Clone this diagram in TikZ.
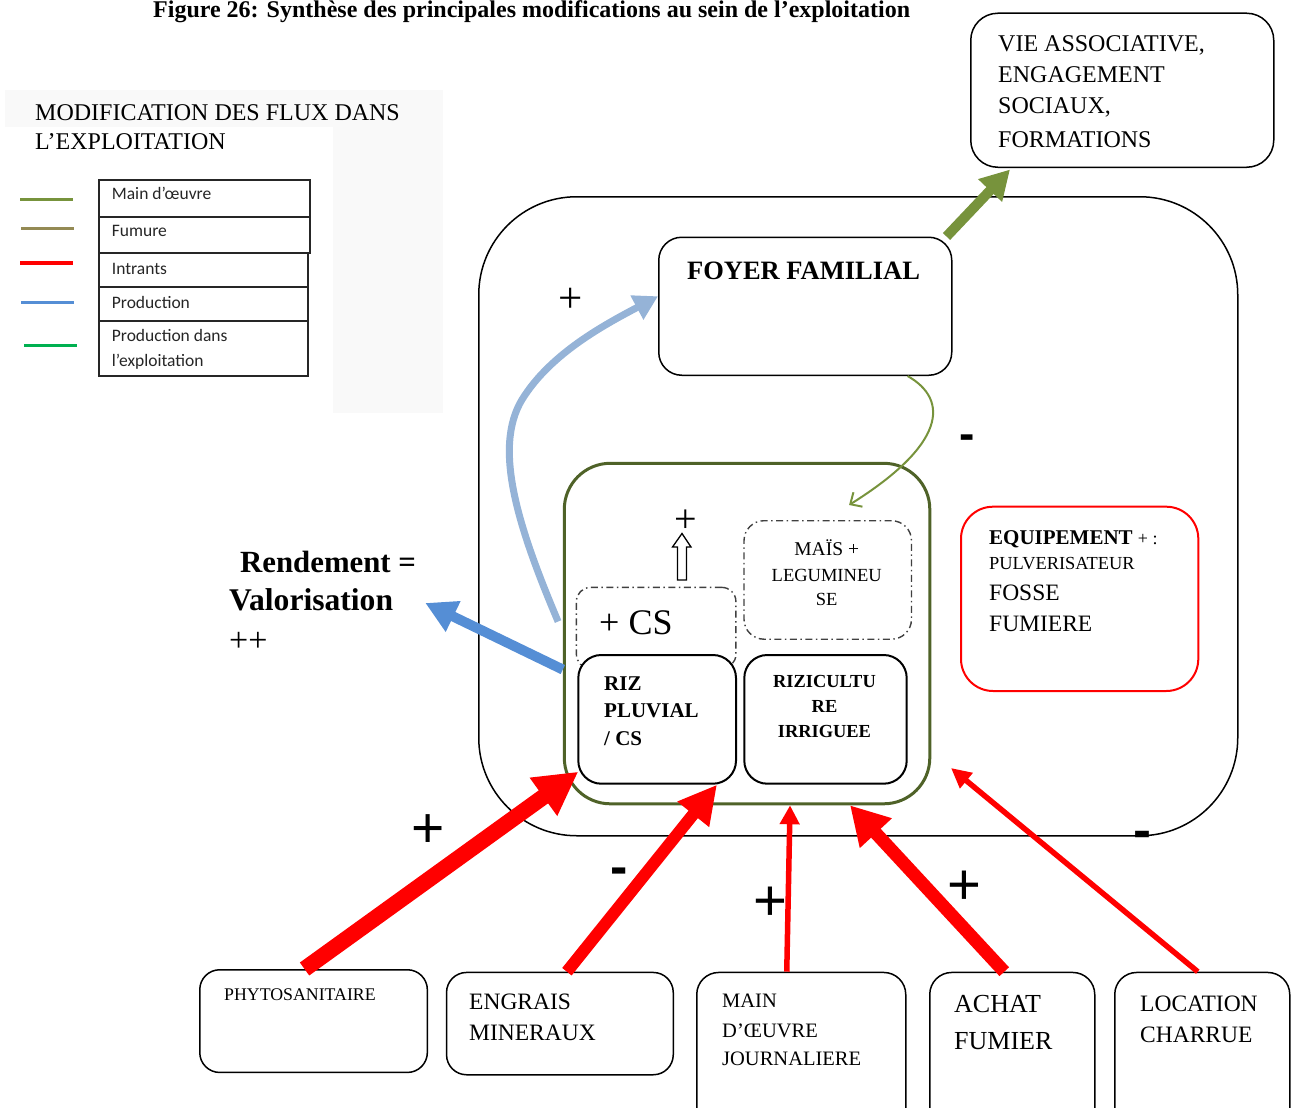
\documentclass[tikz,border=0pt]{standalone}
\usepackage{fontspec}
\setmainfont{Liberation Serif}
\newfontfamily\sansf{Liberation Sans}
\newfontfamily\calf{Carlito}
\usetikzlibrary{arrows.meta}
\newcommand\fsz[1]{\fontsize{#1}{#1}\selectfont}
\definecolor{myolive}{HTML}{77933C}
\definecolor{frameolive}{HTML}{4F6228}
\definecolor{mytan}{HTML}{948A54}
\definecolor{lblue}{HTML}{95B3D7}
\definecolor{mblue}{HTML}{558ED5}
\definecolor{leggreen}{HTML}{00B050}
\definecolor{ddgray}{HTML}{404040}
\definecolor{texture}{HTML}{F9F9F9}
\begin{document}
\begin{tikzpicture}[x=1pt,y=-1pt,
  box/.style={draw, line width=1.5pt, inner sep=0pt, anchor=north west},
  dd/.style={draw=ddgray, line width=1.4pt, dash pattern=on 7pt off 3.5pt on 1.5pt off 3.5pt, inner sep=0pt, anchor=north west},
  txt/.style={inner sep=0pt, anchor=base west},
  ctxt/.style={inner sep=0pt, anchor=base},
  sign/.style={inner sep=0pt, anchor=center},
  legrow/.style={draw=black!85, line width=2pt, inner sep=0pt, anchor=north west},
  legtxt/.style={inner sep=0pt, anchor=base west, font=\calf\fsz{17.5}, text=black!85}]
\useasboundingbox (0,0) rectangle (1291,1108);
% legend background texture
\fill[texture] (5,90) rectangle (443,127);
\fill[texture] (333,127) rectangle (443,413);
% title
\node[txt, font=\bfseries\fsz{24}] (title) at (153,18) {Figure 26: Synthèse des principales modifications au sein de l’exploitation};
% legend
\node[txt, font=\fsz{24}] (legt1) at (35,120) {MODIFICATION DES FLUX DANS};
\node[txt, font=\fsz{24}] (legt2) at (35,149) {L’EXPLOITATION};
\node[legrow, minimum width=211pt, minimum height=37pt] (r1) at (98,179) {};
\node[legrow, minimum width=211pt, minimum height=36pt] (r2) at (98,216) {};
\node[legrow, minimum width=209pt, minimum height=34pt] (r3) at (98,252) {};
\node[legrow, minimum width=209pt, minimum height=33.5pt] (r4) at (98,286) {};
\node[legrow, minimum width=209pt, minimum height=55.5pt] (r5) at (98,319.5) {};
\node[legtxt] (l1) at (111.7,199.3) {Main d’œuvre};
\node[legtxt] (l2) at (111.7,236.7) {Fumure};
\node[legtxt] (l3) at (111.7,274.3) {Intrants};
\node[legtxt] (l4) at (111.7,308.3) {Production};
\node[legtxt] (l5) at (111.7,341.7) {Production dans};
\node[legtxt] (l6) at (111.7,366) {l’exploitation};
\draw[myolive, line width=3pt] (20,199) -- (73,199);
\draw[mytan, line width=3pt] (21,228.3) -- (74,228.3);
\draw[red, line width=4pt] (20,262.7) -- (73,262.7);
\draw[mblue, line width=3pt] (21,302.3) -- (74,302.3);
\draw[leggreen, line width=3pt] (24,345.3) -- (77,345.3);
% main boxes
\node[box, minimum width=303pt, minimum height=154pt, rounded corners=27pt] (vie) at (970,12.5) {};
\node[box, minimum width=759pt, minimum height=639pt, rounded corners=98pt] (outer) at (478,196) {};
\node[box, minimum width=293pt, minimum height=138pt, rounded corners=23pt] (foyer) at (658,236.5) {};
\node[box, draw=frameolive, line width=3pt, minimum width=365.5pt, minimum height=340.5pt, rounded corners=46pt] (inner) at (562.8,461.8) {};
\node[dd, minimum width=159.5pt, minimum height=81pt, rounded corners=14pt] (cs) at (575.7,586.7) {};
\node[dd, minimum width=167.5pt, minimum height=118.5pt, rounded corners=20pt] (mais) at (743.3,520) {};
\node[box, fill=white, line width=2pt, minimum width=157.7pt, minimum height=128.7pt, rounded corners=23pt] (riz) at (577.3,654) {};
\node[box, line width=2pt, minimum width=162.4pt, minimum height=128.7pt, rounded corners=23pt] (rizi) at (743.3,654) {};
\node[box, draw=red, line width=2pt, minimum width=237.3pt, minimum height=184.3pt, rounded corners=32pt] (equip) at (960,505.7) {};
\node[box, minimum width=227.6pt, minimum height=102.7pt, rounded corners=20pt] (phyto) at (199,969) {};
\node[box, minimum width=226.7pt, minimum height=102.3pt, rounded corners=20pt] (engrais) at (445.8,971.7) {};
\node[box, minimum width=209pt, minimum height=160pt, rounded corners=22pt] (main) at (696,971.7) {};
\node[box, minimum width=165pt, minimum height=160pt, rounded corners=22pt] (achat) at (929,971.7) {};
\node[box, minimum width=175pt, minimum height=160pt, rounded corners=22pt] (loc) at (1114,971.7) {};
% texts
\node[txt, font=\fsz{24}] (v1) at (998,51.7) {VIE ASSOCIATIVE,};
\node[txt, font=\fsz{24}] (v2) at (998,82.8) {ENGAGEMENT};
\node[txt, font=\fsz{24}] (v3) at (998,113.8) {SOCIAUX,};
\node[txt, font=\fsz{24}] (v4) at (998,147.7) {FORMATIONS};
\node[ctxt, font=\bfseries\fsz{26.5}] (foyert) at (803.5,279) {FOYER FAMILIAL};
\node[txt, font=\fsz{36}] (cst) at (599,634) {+ CS};
\node[ctxt, font=\fsz{19.5}] (m1) at (826.7,555) {MAÏS +};
\node[ctxt, font=\fsz{18.5}] (m2) at (826.7,581.7) {LEGUMINEU};
\node[ctxt, font=\fsz{18.5}] (m3) at (826.7,605) {SE};
\node[txt, font=\bfseries\fsz{21}] (rz1) at (604,690) {RIZ};
\node[txt, font=\bfseries\fsz{21}] (rz2) at (604,717.7) {PLUVIAL};
\node[txt, font=\bfseries\fsz{21}] (rz3) at (604,745.7) {/ CS};
\node[ctxt, font=\bfseries\fsz{18.4}] (ri1) at (824.5,687.3) {RIZICULTU};
\node[ctxt, font=\bfseries\fsz{18.4}] (ri2) at (824.5,712.3) {RE};
\node[ctxt, font=\bfseries\fsz{18.4}] (ri3) at (824.5,737.3) {IRRIGUEE};
\node[txt] (eq1) at (989,544.3) {\fsz{21}\textbf{EQUIPEMENT} {\fsz{18}+ :}};
\node[txt, font=\fsz{18.4}] (eq2) at (989,569.3) {PULVERISATEUR};
\node[txt, font=\fsz{23.5}] (eq3) at (989,600) {FOSSE};
\node[txt, font=\fsz{23.5}] (eq4) at (989,631.7) {FUMIERE};
\node[txt, font=\bfseries\fsz{30.8}] (rend) at (240,572.7) {Rendement =};
\node[txt, font=\bfseries\fsz{31.6}] (valo) at (229,610) {Valorisation};
\node[txt, font=\fsz{34}] (pp) at (229,651) {++};
\node[txt, font=\fsz{17.8}] (ph) at (224,1000) {PHYTOSANITAIRE};
\node[txt, font=\fsz{23.5}] (en1) at (469,1009.3) {ENGRAIS};
\node[txt, font=\fsz{23.5}] (en2) at (469,1040.7) {MINERAUX};
\node[txt, font=\fsz{20.5}] (mo1) at (722,1007.3) {MAIN};
\node[txt, font=\fsz{20.5}] (mo2) at (722,1037.3) {D’ŒUVRE};
\node[txt, font=\fsz{20.5}] (mo3) at (722,1065) {JOURNALIERE};
\node[txt, font=\fsz{26}] (ac1) at (954,1012.7) {ACHAT};
\node[txt, font=\fsz{26}] (ac2) at (954,1049) {FUMIER};
\node[txt, font=\fsz{23.5}] (lo1) at (1140,1011) {LOCATION};
\node[txt, font=\fsz{23.5}] (lo2) at (1140,1042.3) {CHARRUE};
% signs
\node[sign, font=\fsz{43}] (s1) at (571,300) {+};
\node[sign, font=\fsz{40}] (s2) at (686,521) {+};
\node[sign, font=\sansf\fsz{57}] (s3) at (428.5,831) {+};
\node[sign, font=\sansf\bfseries\fsz{52}] (s4) at (618.7,876) {-};
\node[sign, font=\sansf\fsz{58}] (s5) at (770.3,904) {+};
\node[sign, font=\sansf\fsz{58}] (s6) at (964,888) {+};
\node[sign, font=\sansf\bfseries\fsz{54}] (s7) at (1142.5,840) {-};
\node[sign, font=\sansf\bfseries\fsz{46}] (s8) at (967,442) {-};
% hollow block arrow
\draw[line width=1.3pt, fill=white] (677.5,580) -- (677.5,547) -- (672.5,547) -- (682,533.5) -- (691,547) -- (686.5,547) -- (686.5,580) -- cycle;
% connectors
\draw[myolive, line width=10pt, -{Triangle[length=29pt,width=31pt]}] ([xshift=-6pt]foyer.north east) -- ([xshift=40pt,yshift=-1.5pt]vie.south west);
\draw[lblue, line width=7pt, -{Triangle[length=24pt,width=26pt]}] ([xshift=-4.7pt,yshift=12pt]inner.west) .. controls (515,520) and (492,442) .. (525,395) .. controls (555,350) and (610,322) .. ([yshift=10pt]foyer.west);
\draw[myolive, line width=2pt, -{Straight Barb[length=9pt,width=17pt]}] ([xshift=102.3pt]foyer.south) .. controls (950,400) and (945,445) .. ([xshift=21.3pt,yshift=15pt]mais.north);
\draw[mblue, line width=10pt, -{Triangle[length=31pt,width=32pt]}] ([yshift=-36pt]inner.west) -- ([xshift=32pt,yshift=7pt]valo.base east);
\coordinate (t5) at (951,768);
\draw[red, line width=16pt, -{Triangle[length=43pt,width=44pt]}] ([xshift=-9pt]phyto.north) -- ([xshift=1pt,yshift=13pt]riz.south west);
\draw[red, line width=12pt, -{Triangle[length=38pt,width=38pt]}] ([xshift=7pt]engrais.north) -- ([xshift=-20pt]riz.south east);
\draw[red, line width=5.5pt, -{Triangle[length=19pt,width=19pt]}] ([xshift=-14.5pt]main.north) -- ([xshift=43pt]inner.south);
\draw[red, line width=13pt, -{Triangle[length=38pt,width=41pt]}] ([xshift=-8pt]achat.north) -- ([xshift=103pt]inner.south);
\draw[red, line width=5.5pt, -{Triangle[length=20pt,width=19pt]}] ([xshift=-4.5pt]loc.north) -- (t5);
\end{tikzpicture}
\end{document}
